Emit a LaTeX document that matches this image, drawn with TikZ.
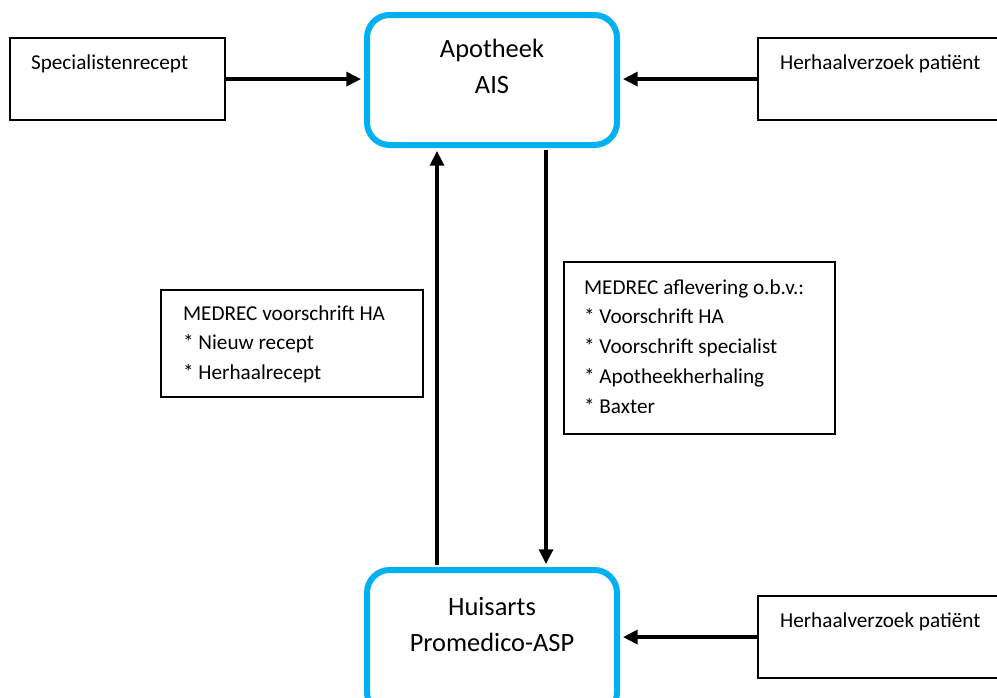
\documentclass[tikz,border=0pt]{standalone}
\usepackage{fontspec}
\setmainfont{Carlito}
\usetikzlibrary{arrows.meta,positioning}
\definecolor{sysblue}{HTML}{00B0F0}
\begin{document}
\begin{tikzpicture}[x=0.75pt,y=-0.75pt]
\tikzstyle{every node}=[inner ysep=0pt, align=flush left]
\tikzstyle{msgbox}=[draw, line width=1.6pt, anchor=north west, font=\fontsize{15.9}{22.3}\selectfont]
\tikzstyle{reqbox}=[msgbox, text height=23.25pt, text depth=38.25pt]
\tikzstyle{sysbox}=[draw=sysblue, line width=4.5pt, rounded corners=17pt, anchor=north,
  inner xsep=0pt, text width=187.5pt, align=flush center, font=\fontsize{19.8}{27}\selectfont]
\tikzstyle{flow}=[line width=2.4pt, shorten >=2.25pt, -{Triangle[length=11pt,width=10.5pt]}]
\useasboundingbox (0,0) rectangle (997,697);

% systemen
\node[sysbox, text height=31.5pt, text depth=66pt] (apo) at (492,12) {Apotheek\\AIS};
\node[sysbox, text height=33.75pt, text depth=75pt] (huis) at (492,567) {Huisarts\\Promedico-ASP};

% bronnen
\node[reqbox, inner xsep=15.75pt, text width=129.75pt] (spec) at (9,37) {Specialistenrecept};
\node[reqbox, inner xsep=16.5pt, text width=162pt] (herhA) at (757,37) {Herhaalverzoek patiënt};
\node[reqbox, inner xsep=16.5pt, text width=162pt] (herhB) at (757,595) {Herhaalverzoek patiënt};

% berichten
\node[msgbox, inner xsep=16.5pt, text width=163.5pt, text height=22.5pt, text depth=57.75pt] (voor) at (160,289)
  {MEDREC voorschrift HA\\{*} Nieuw recept\\{*} Herhaalrecept};
\node[msgbox, inner xsep=15pt, text width=173.25pt, text height=24pt, text depth=105pt] (aflev) at (563,261)
  {MEDREC aflevering o.b.v.:\\{*} Voorschrift HA\\{*} Voorschrift specialist\\{*} Apotheekherhaling\\{*} Baxter};

\draw[flow] (spec.east) -- (spec.east -| apo.west);
\draw[flow] (herhA.west) -- (herhA.west -| apo.east);
\draw[flow] (herhB.west) -- (herhB.west -| huis.east);
\draw[flow, shorten <=1.5pt] ([xshift=-41.25pt]huis.north) -- ([xshift=-41.25pt]apo.south);
\draw[flow, shorten <=1.5pt] ([xshift=40.5pt]apo.south) -- ([xshift=40.5pt]huis.north);
\end{tikzpicture}
\end{document}
